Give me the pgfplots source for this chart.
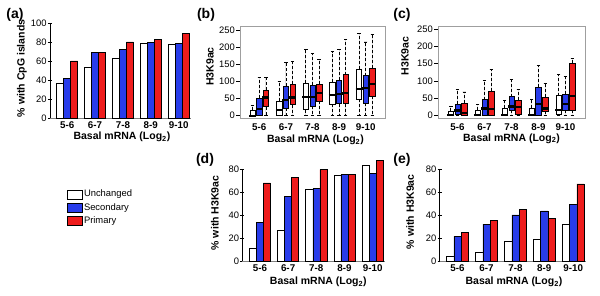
\documentclass[border=0pt]{standalone}
\usepackage{fontspec}
\setmainfont{Liberation Sans}
\usepackage{pgfplots}
\pgfplotsset{compat=1.18}
\usepgfplotslibrary{statistics}
\definecolor{myblue}{RGB}{40,60,235}
\definecolor{myred}{RGB}{238,28,28}
\newcommand{\tickfont}{\fontsize{9.4}{10}\selectfont}
\newcommand{\tickbold}{\fontsize{9.8}{10}\selectfont\bfseries}
\newcommand{\labfont}{\fontsize{10.5}{12}\selectfont\bfseries}
\newcommand{\panfont}{\fontsize{14}{16}\selectfont\bfseries}
\pgfplotsset{
  common/.style={
    scale only axis,
    /pgf/number format/assume math mode=true,
    tick align=outside,
    major tick length=4pt,
    xtick style={draw=none},
    ytick style={black, line width=0.5pt},
    yticklabel style={font=\tickfont, inner sep=1pt},
    xticklabel style={font=\tickbold, inner sep=0pt, yshift=-1.5pt},
    xticklabels={5-6,6-7,7-8,8-9,9-10},
    xlabel={Basal mRNA (Log$_\mathbf{2}$)},
  },
  barpanel/.style={
    common,
    axis y line=left, axis x line=bottom,
    x axis line style={gray, -, line width=0.7pt},
    y axis line style={black, -, line width=0.5pt},
    xmin=0, xmax=20.3,
    xtick={2.5,6.5,10.5,14.5,18.5},
    clip=false,
  },
  bars/.style={ybar, bar width=1, bar shift=0pt, draw=black, line width=0.55pt},
  boxpanel/.style={
    common,
    axis line style={gray!75, line width=0.6pt},
    xmin=-0.9, xmax=20.9, ymin=-7.6, ymax=259.6,
    xtick={2,6,10,14,18},
    ytick={0,50,...,250},
    ytick pos=left,
    ylabel={H3K9ac},
    boxplot/draw direction=y,
    boxplot/box extend=0.8,
    boxplot/whisker extend=0.5,
    boxplot/draw/median/.code={\draw[line width=2.2pt, black, solid]
      (boxplot box cs:\pgfplotsboxplotvalue{median},-0.15) --
      (boxplot box cs:\pgfplotsboxplotvalue{median},1.15);},
    boxplot/draw/upper whisker/.code={\draw[black, line width=0.75pt, dash pattern=on 3pt off 2pt]
      (boxplot box cs:\pgfplotsboxplotvalue{upper quartile},0.5) --
      (boxplot box cs:\pgfplotsboxplotvalue{upper whisker},0.5);
      \draw[black, solid, line width=0.9pt]
      (boxplot whisker cs:\pgfplotsboxplotvalue{upper whisker},0) --
      (boxplot whisker cs:\pgfplotsboxplotvalue{upper whisker},1);},
    boxplot/draw/lower whisker/.code={\draw[black, line width=0.75pt, dash pattern=on 3pt off 2pt]
      (boxplot box cs:\pgfplotsboxplotvalue{lower quartile},0.5) --
      (boxplot box cs:\pgfplotsboxplotvalue{lower whisker},0.5);
      \draw[black, solid, line width=0.9pt]
      (boxplot whisker cs:\pgfplotsboxplotvalue{lower whisker},0) --
      (boxplot whisker cs:\pgfplotsboxplotvalue{lower whisker},1);},
  },
}
% draw position, lower whisker, lower quartile, median, upper quartile, upper whisker, fill
\newcommand{\bx}[7]{\addplot[boxplot prepared={draw position=#1, lower whisker=#2,
  lower quartile=#3, median=#4, upper quartile=#5, upper whisker=#6},
  fill=#7, draw=black, line width=0.6pt] coordinates {};}
\begin{document}
\begin{tikzpicture}[x=1pt,y=1pt]
\path[use as bounding box] (0,0) rectangle (600,295);
% ---------------- (a)
\begin{axis}[barpanel, at={(49.8pt,176.7pt)}, anchor=south west,
  width=141.4pt, height=95pt, ymin=0, ymax=100, ytick={0,20,...,100},
  ylabel={\% with CpG islands},
  every axis y label/.style={at={(axis description cs:-0.197,0.525)}, rotate=90, anchor=center, font=\labfont},
  every axis x label/.style={at={(axis description cs:0.51,0)}, yshift=-18.5pt, anchor=center, font=\labfont}]
\addplot[bars, fill=white] coordinates {(1.5,37) (5.5,54) (9.5,63.5) (13.5,79) (17.5,77.5)};
\addplot[bars, fill=myblue] coordinates {(2.5,42) (6.5,69.5) (10.5,72.5) (14.5,79.5) (18.5,79)};
\addplot[bars, fill=myred] coordinates {(3.5,60.5) (7.5,69.5) (11.5,80.5) (15.5,83) (19.5,89.5)};
\end{axis}
% ---------------- (b)
\begin{axis}[boxpanel, at={(240pt,176.7pt)}, anchor=south west,
  width=145pt, height=91.6pt,
  every axis y label/.style={at={(axis description cs:-0.207,0.566)}, rotate=90, anchor=center, font=\labfont},
  every axis x label/.style={at={(axis description cs:0.52,0)}, yshift=-21.5pt, anchor=center, font=\labfont}]
\bx{1}{0}{0}{0}{17}{31}{white}
\bx{2}{0}{1}{19}{51}{112}{myblue}
\bx{3}{2}{26}{53}{75}{112}{myred}
\bx{5}{0}{2}{16}{43}{99}{white}
\bx{6}{0}{21}{45}{86}{156}{myblue}
\bx{7}{0}{32}{53}{92}{158}{myred}
\bx{9}{0}{18}{54}{94}{193}{white}
\bx{10}{0}{27}{54}{89}{181}{myblue}
\bx{11}{0}{42}{67}{92}{164}{myred}
\bx{13}{0}{34}{61}{97}{186}{white}
\bx{14}{0}{35}{64}{103}{194}{myblue}
\bx{15}{0}{35}{67}{120}{223}{myred}
\bx{17}{0}{48}{77}{135}{240}{white}
\bx{18}{0}{36}{80}{117}{215}{myblue}
\bx{19}{0}{57}{93}{138}{238}{myred}
\end{axis}
% ---------------- (c)
\begin{axis}[boxpanel, at={(438pt,177pt)}, anchor=south west,
  width=147pt, height=92pt,
  every axis y label/.style={at={(axis description cs:-0.224,0.674)}, rotate=90, anchor=center, font=\labfont},
  every axis x label/.style={at={(axis description cs:0.5,0)}, yshift=-20.5pt, anchor=center, font=\labfont}]
\bx{1}{0}{0}{0}{13}{25}{white}
\bx{2}{0}{2}{14}{33}{74}{myblue}
\bx{3}{0}{0}{8}{36}{68}{myred}
\bx{5}{0}{0}{0}{16}{32}{white}
\bx{6}{0}{0}{20}{46}{102}{myblue}
\bx{7}{0}{0}{19}{71}{134}{myred}
\bx{9}{0}{0}{0}{20}{44}{white}
\bx{10}{0}{16}{26}{54}{105}{myblue}
\bx{11}{0}{2}{24}{45}{74}{myred}
\bx{13}{0}{0}{0}{21}{46}{white}
\bx{14}{0}{0}{33}{82}{146}{myblue}
\bx{15}{0}{13}{20}{52}{92}{myred}
\bx{17}{0}{2}{16}{57}{118}{white}
\bx{18}{0}{16}{34}{62}{113}{myblue}
\bx{19}{0}{15}{57}{151}{166}{myred}
\end{axis}
% ---------------- (d)
\begin{axis}[barpanel, at={(242.3pt,34pt)}, anchor=south west,
  width=142.4pt, height=92pt, xmax=20.2, ymin=0, ymax=80, ytick={0,20,...,80},
  ylabel={\% with H3K9ac},
  every axis y label/.style={at={(axis description cs:-0.192,0.522)}, rotate=90, anchor=center, font=\labfont},
  every axis x label/.style={at={(axis description cs:0.534,0)}, yshift=-20.7pt, anchor=center, font=\labfont},
  legend style={at={(axis description cs:-1.231,0.785)}, anchor=north west, draw=none, fill=none,
    inner sep=0pt, font=\tickfont, row sep=2.2pt,
    nodes={inner sep=1pt, text height=7pt, text depth=2pt}},
  legend cell align=left]
\addplot[bars, fill=white, legend image code/.code={\draw[black, fill=white, line width=0.8pt] (0pt,-4.5pt) rectangle (15pt,4.5pt);}] coordinates {(1.5,11) (5.5,27) (9.5,62) (13.5,74.5) (17.5,83)};
\addplot[bars, fill=myblue, legend image code/.code={\draw[black, fill=myblue, line width=0.8pt] (0pt,-4.5pt) rectangle (15pt,4.5pt);}] coordinates {(2.5,33.5) (6.5,56.5) (10.5,63) (14.5,75) (18.5,76)};
\addplot[bars, fill=myred, legend image code/.code={\draw[black, fill=myred, line width=0.8pt] (0pt,-4.5pt) rectangle (15pt,4.5pt);}] coordinates {(3.5,68) (7.5,73) (11.5,79.5) (15.5,75) (19.5,87.5)};
\legend{Unchanged, Secondary, Primary}
\end{axis}
% ---------------- (e)
\begin{axis}[barpanel, at={(439.5pt,34pt)}, anchor=south west,
  width=146pt, height=92pt, xmax=20.2, ymin=0, ymax=80, ytick={0,20,...,80},
  ylabel={\% with H3K9ac},
  every axis y label/.style={at={(axis description cs:-0.202,0.536)}, rotate=90, anchor=center, font=\labfont},
  every axis x label/.style={at={(axis description cs:0.51,0)}, yshift=-20.7pt, anchor=center, font=\labfont}]
\addplot[bars, fill=white] coordinates {(1.5,4) (5.5,8) (9.5,17) (13.5,18.5) (17.5,32)};
\addplot[bars, fill=myblue] coordinates {(2.5,21.5) (6.5,32) (10.5,40) (14.5,43.5) (18.5,49)};
\addplot[bars, fill=myred] coordinates {(3.5,25) (7.5,35) (11.5,45) (15.5,37) (19.5,67)};
\end{axis}
% ---------------- panel letters
\node[font=\panfont] at (15,280) {(a)};
\node[font=\panfont] at (206,280) {(b)};
\node[font=\panfont] at (402,280) {(c)};
\node[font=\panfont] at (205,135) {(d)};
\node[font=\panfont] at (402,135) {(e)};
\end{tikzpicture}
\end{document}
